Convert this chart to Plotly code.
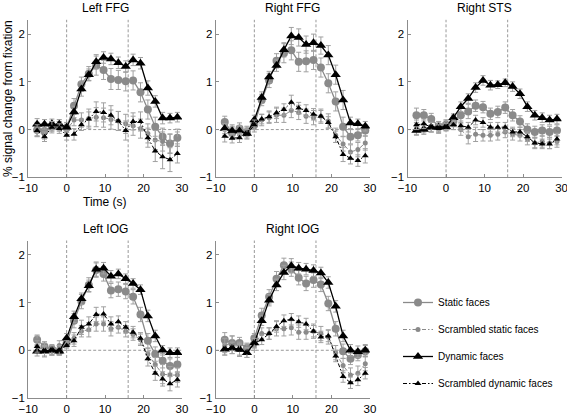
import plotly.graph_objects as go

# ---------------- data ----------------
time_s = [-7.68, -5.76, -3.84, -1.92, 0, 1.92, 3.84, 5.76, 7.68, 9.6, 11.52,
          13.44, 15.36, 17.28, 19.2, 21.12, 23.04, 24.96, 26.88, 28.8]

panel_titles = ["Left FFG", "Right FFG", "Right STS", "Left IOG", "Right IOG"]
series_names = ["Static faces", "Scrambled static faces", "Dynamic faces",
                "Scrambled dynamic faces"]
x_ticks = [-10, 0, 10, 20, 30]
y_ticks = [-1, 0, 1, 2]

# Left FFG
lffg_static = [-0.01, -0.03, 0.07, 0.07, 0.04, 0.5, 0.95, 1.17, 1.34, 1.25, 1.06,
               1.04, 1.01, 1.03, 0.78, 0.42, 0.06, -0.15, -0.29, -0.17]
lffg_scr_static = [0.0, -0.05, 0.07, 0.07, -0.01, 0.2, 0.2, 0.23, 0.26, 0.25, 0.21,
                   0.18, 0.12, 0.08, 0.02, -0.08, -0.22, -0.25, -0.3, -0.2]
lffg_dynamic = [0.11, 0.11, 0.12, 0.11, 0.05, 0.37, 0.85, 1.15, 1.42, 1.51, 1.48,
                1.4, 1.32, 1.46, 1.39, 0.87, 0.59, 0.24, 0.24, 0.26]
lffg_scr_dynamic = [-0.02, -0.15, 0.05, 0.02, -0.12, -0.1, 0.1, 0.22, 0.38, 0.36, 0.3,
                    0.18, -0.02, 0.17, 0.17, -0.17, -0.45, -0.57, -0.63, -0.5]
lffg_static_err = [0.12, 0.12, 0.1, 0.1, 0.1, 0.15, 0.15, 0.15, 0.2, 0.2, 0.22,
                   0.2, 0.2, 0.2, 0.2, 0.2, 0.2, 0.18, 0.2, 0.18]
lffg_scr_static_err = [0.15, 0.15, 0.1, 0.1, 0.1, 0.12, 0.15, 0.2, 0.2, 0.2, 0.2,
                       0.2, 0.2, 0.2, 0.2, 0.2, 0.2, 0.2, 0.2, 0.15]
lffg_dynamic_err = [0.12, 0.1, 0.1, 0.1, 0.1, 0.12, 0.15, 0.12, 0.15, 0.12, 0.12,
                    0.12, 0.12, 0.12, 0.12, 0.15, 0.12, 0.12, 0.1, 0.1]
lffg_scr_dynamic_err = [0.12, 0.1, 0.12, 0.1, 0.1, 0.12, 0.12, 0.15, 0.2, 0.2, 0.2,
                        0.2, 0.2, 0.18, 0.2, 0.2, 0.22, 0.25, 0.25, 0.2]

# Right FFG
rffg_static = [0.16, -0.07, 0.02, -0.05, 0.1, 0.62, 1.03, 1.44, 1.6, 1.66, 1.42,
               1.43, 1.46, 1.3, 0.97, 0.59, 0.06, -0.15, -0.12, -0.02]
rffg_scr_static = [0.0, 0.0, -0.02, -0.03, 0.05, 0.2, 0.25, 0.3, 0.3, 0.4, 0.36,
                   0.28, 0.25, 0.28, 0.18, -0.12, -0.3, -0.47, -0.42, -0.28]
rffg_dynamic = [0.02, -0.03, -0.03, -0.08, 0.2, 0.67, 1.1, 1.34, 1.67, 1.96, 1.93,
                1.78, 1.82, 1.76, 1.56, 1.15, 0.62, 0.14, 0.12, 0.07]
rffg_scr_dynamic = [-0.14, -0.18, -0.17, -0.1, 0.1, 0.22, 0.27, 0.35, 0.42, 0.57, 0.45,
                    0.4, 0.32, 0.28, 0.15, -0.15, -0.52, -0.6, -0.65, -0.55]
rffg_static_err = [0.12, 0.12, 0.12, 0.1, 0.1, 0.12, 0.15, 0.15, 0.2, 0.2, 0.2,
                   0.22, 0.2, 0.2, 0.2, 0.2, 0.2, 0.15, 0.12, 0.12]
rffg_scr_static_err = [0.12, 0.1, 0.1, 0.1, 0.1, 0.12, 0.12, 0.15, 0.15, 0.15, 0.15,
                       0.15, 0.15, 0.15, 0.15, 0.15, 0.15, 0.15, 0.15, 0.15]
rffg_dynamic_err = [0.1, 0.1, 0.1, 0.1, 0.1, 0.12, 0.12, 0.12, 0.15, 0.18, 0.18,
                    0.18, 0.18, 0.18, 0.2, 0.2, 0.2, 0.12, 0.1, 0.1]
rffg_scr_dynamic_err = [0.12, 0.1, 0.1, 0.1, 0.1, 0.1, 0.12, 0.12, 0.12, 0.15, 0.12,
                        0.12, 0.12, 0.12, 0.12, 0.12, 0.15, 0.12, 0.12, 0.15]

# Right STS
rsts_static = [0.3, 0.3, 0.22, 0.07, 0.1, 0.18, 0.3, 0.38, 0.5, 0.47, 0.33,
               0.37, 0.46, 0.3, 0.17, 0.0, -0.05, -0.02, -0.05, -0.02]
rsts_scr_static = [0.02, 0.03, 0.05, 0.02, 0.1, 0.1, 0.0, -0.15, -0.1, -0.12, -0.12,
                   -0.1, -0.05, -0.1, -0.12, -0.2, -0.28, -0.25, -0.28, -0.25]
rsts_dynamic = [-0.02, 0.0, 0.05, 0.05, 0.06, 0.25, 0.48, 0.65, 0.88, 1.03, 0.93,
                0.94, 0.98, 0.9, 0.75, 0.48, 0.3, 0.25, 0.2, 0.22]
rsts_scr_dynamic = [0.1, 0.12, 0.05, 0.02, 0.05, 0.1, 0.08, 0.05, 0.2, 0.15, 0.05,
                    0.05, 0.05, -0.05, -0.05, -0.15, -0.28, -0.3, -0.3, -0.2]
rsts_static_err = [0.15, 0.12, 0.12, 0.1, 0.1, 0.12, 0.15, 0.15, 0.12, 0.12, 0.12,
                   0.12, 0.12, 0.12, 0.12, 0.12, 0.12, 0.12, 0.12, 0.12]
rsts_scr_static_err = [0.12, 0.1, 0.1, 0.1, 0.1, 0.1, 0.12, 0.15, 0.15, 0.12, 0.12,
                       0.12, 0.12, 0.12, 0.12, 0.12, 0.12, 0.12, 0.12, 0.12]
rsts_dynamic_err = [0.1, 0.1, 0.1, 0.08, 0.08, 0.08, 0.1, 0.1, 0.1, 0.1, 0.1,
                    0.08, 0.08, 0.1, 0.1, 0.1, 0.1, 0.1, 0.1, 0.1]
rsts_scr_dynamic_err = [0.1, 0.1, 0.1, 0.08, 0.08, 0.1, 0.1, 0.1, 0.1, 0.1, 0.1,
                        0.1, 0.1, 0.1, 0.1, 0.1, 0.1, 0.1, 0.1, 0.12]

# Left IOG
liog_static = [0.22, 0.08, 0.02, -0.02, 0.15, 0.62, 1.02, 1.37, 1.68, 1.6, 1.25,
               1.28, 1.23, 1.12, 0.75, 0.2, -0.08, -0.22, -0.33, -0.3]
liog_scr_static = [0.2, 0.05, 0.0, 0.1, 0.15, 0.25, 0.4, 0.43, 0.55, 0.55, 0.45,
                   0.48, 0.4, 0.33, 0.22, -0.08, -0.3, -0.5, -0.52, -0.52]
liog_dynamic = [-0.02, -0.02, 0.0, -0.02, 0.25, 0.7, 1.08, 1.35, 1.7, 1.72, 1.55,
                1.6, 1.5, 1.4, 1.27, 0.72, 0.3, 0.0, -0.05, -0.05]
liog_scr_dynamic = [0.08, -0.02, 0.0, 0.0, 0.1, 0.2, 0.48, 0.55, 0.75, 0.76, 0.55,
                    0.6, 0.48, 0.38, 0.25, -0.18, -0.48, -0.6, -0.7, -0.62]
liog_static_err = [0.1, 0.1, 0.1, 0.08, 0.1, 0.15, 0.15, 0.15, 0.15, 0.15, 0.15,
                   0.15, 0.15, 0.15, 0.15, 0.15, 0.15, 0.15, 0.15, 0.15]
liog_scr_static_err = [0.1, 0.1, 0.1, 0.1, 0.1, 0.12, 0.12, 0.15, 0.15, 0.15, 0.15,
                       0.12, 0.12, 0.12, 0.12, 0.12, 0.15, 0.2, 0.18, 0.15]
liog_dynamic_err = [0.1, 0.1, 0.1, 0.08, 0.1, 0.12, 0.12, 0.12, 0.15, 0.12, 0.12,
                    0.1, 0.1, 0.1, 0.1, 0.12, 0.12, 0.1, 0.1, 0.1]
liog_scr_dynamic_err = [0.12, 0.12, 0.1, 0.1, 0.1, 0.12, 0.15, 0.15, 0.15, 0.15, 0.15,
                        0.12, 0.12, 0.12, 0.12, 0.15, 0.15, 0.15, 0.15, 0.15]

# Right IOG
riog_static = [0.22, 0.15, 0.15, 0.05, 0.25, 0.73, 1.12, 1.5, 1.78, 1.7, 1.52,
               1.4, 1.47, 1.38, 0.98, 0.45, -0.02, -0.18, -0.1, -0.02]
riog_scr_static = [0.1, 0.15, 0.02, 0.03, 0.1, 0.35, 0.35, 0.45, 0.45, 0.47, 0.38,
                   0.38, 0.4, 0.35, 0.28, -0.05, -0.32, -0.52, -0.48, -0.28]
riog_dynamic = [0.02, 0.05, 0.02, -0.05, 0.15, 0.62, 1.05, 1.37, 1.63, 1.77, 1.72,
                1.7, 1.67, 1.62, 1.42, 0.92, 0.3, 0.0, -0.03, 0.0]
riog_scr_dynamic = [0.02, 0.05, 0.0, -0.05, 0.15, 0.22, 0.35, 0.5, 0.62, 0.65, 0.6,
                    0.55, 0.4, 0.28, 0.3, -0.12, -0.55, -0.68, -0.62, -0.48]
riog_static_err = [0.15, 0.15, 0.12, 0.1, 0.1, 0.15, 0.15, 0.15, 0.15, 0.15, 0.15,
                   0.15, 0.15, 0.15, 0.15, 0.15, 0.15, 0.12, 0.12, 0.12]
riog_scr_static_err = [0.15, 0.15, 0.15, 0.1, 0.1, 0.12, 0.12, 0.15, 0.15, 0.15, 0.15,
                       0.15, 0.15, 0.15, 0.15, 0.15, 0.15, 0.15, 0.15, 0.15]
riog_dynamic_err = [0.12, 0.12, 0.12, 0.1, 0.1, 0.1, 0.12, 0.12, 0.15, 0.15, 0.12,
                    0.12, 0.12, 0.12, 0.12, 0.12, 0.12, 0.12, 0.12, 0.12]
riog_scr_dynamic_err = [0.12, 0.12, 0.12, 0.1, 0.1, 0.1, 0.12, 0.12, 0.12, 0.12, 0.12,
                        0.12, 0.12, 0.12, 0.12, 0.12, 0.12, 0.12, 0.12, 0.12]

panels = [
    (lffg_static, lffg_scr_static, lffg_dynamic, lffg_scr_dynamic,
     lffg_static_err, lffg_scr_static_err, lffg_dynamic_err, lffg_scr_dynamic_err),
    (rffg_static, rffg_scr_static, rffg_dynamic, rffg_scr_dynamic,
     rffg_static_err, rffg_scr_static_err, rffg_dynamic_err, rffg_scr_dynamic_err),
    (rsts_static, rsts_scr_static, rsts_dynamic, rsts_scr_dynamic,
     rsts_static_err, rsts_scr_static_err, rsts_dynamic_err, rsts_scr_dynamic_err),
    (liog_static, liog_scr_static, liog_dynamic, liog_scr_dynamic,
     liog_static_err, liog_scr_static_err, liog_dynamic_err, liog_scr_dynamic_err),
    (riog_static, riog_scr_static, riog_dynamic, riog_scr_dynamic,
     riog_static_err, riog_scr_static_err, riog_dynamic_err, riog_scr_dynamic_err),
]

# ---------------- layout geometry ----------------
W, H = 567, 417
col_px = [(28.2, 182.0), (215.8, 369.9), (407.5, 561.6)]
row_px = [(19.8, 177.3), (240.5, 398.0)]
cells = [(0, 0), (0, 1), (0, 2), (1, 0), (1, 1)]

GRAY = "#8a8a8a"
ERR = "#a0a0a0"
AXC = "#8c8c8c"
FONT = "Liberation Sans, Arial, Helvetica, sans-serif"
TICK_SIZE = 11.5

styles = [
    dict(color=GRAY, dash="solid", width=1.3, symbol="circle", size=8),
    dict(color=GRAY, dash="4px,2px,1.5px,2px", width=1, symbol="circle", size=5),
    dict(color="black", dash="solid", width=1.3, symbol="triangle-up", size=9),
    dict(color="black", dash="4px,2px,1.5px,2px", width=1, symbol="triangle-up", size=6),
]

fig = go.Figure()
layout = dict(
    width=W, height=H,
    margin=dict(l=0, r=0, t=0, b=0),
    paper_bgcolor="white", plot_bgcolor="white",
    font=dict(family=FONT, size=12, color="black"),
    showlegend=True,
    legend=dict(x=398 / W, y=1 - 288 / H, xanchor="left", yanchor="top",
                font=dict(size=10), tracegroupgap=8, bgcolor="rgba(0,0,0,0)"),
)
shapes = []
annotations = []

for p, (r, c) in enumerate(cells):
    n = "" if p == 0 else str(p + 1)
    xa, ya = "x" + n, "y" + n
    x0, x1 = col_px[c]
    y0, y1 = row_px[r]
    layout["xaxis" + n] = dict(
        domain=[x0 / W, x1 / W], anchor=ya, range=[-10, 30], tickvals=x_ticks,
        showline=True, linecolor=AXC, linewidth=1, ticks="inside", ticklen=3,
        tickcolor=AXC, showgrid=False, zeroline=False, fixedrange=True,
        tickfont=dict(size=TICK_SIZE), automargin=False, ticklabeloverflow="allow",
    )
    layout["yaxis" + n] = dict(
        domain=[1 - y1 / H, 1 - y0 / H], anchor=xa, range=[-1, 2.3], tickvals=y_ticks,
        showline=True, linecolor=AXC, linewidth=1, ticks="inside", ticklen=3,
        tickcolor=AXC, showgrid=False, zeroline=False, fixedrange=True,
        tickfont=dict(size=TICK_SIZE), automargin=False, ticklabeloverflow="allow",
    )
    # reference lines
    shapes.append(dict(type="line", xref=xa, yref=ya, x0=-10, x1=30, y0=0, y1=0,
                       line=dict(color="#999999", width=1, dash="3px,2px"), layer="below"))
    for xv in (0, 16):
        shapes.append(dict(type="line", xref=xa, yref=ya + " domain", x0=xv, x1=xv,
                           y0=0, y1=1,
                           line=dict(color="#999999", width=1, dash="3px,2px"),
                           layer="below"))
    annotations.append(dict(text=panel_titles[p], xref="paper", yref="paper",
                            x=(x0 + x1) / 2 / W, y=1 - (y0 - 11.5) / H,
                            xanchor="center", yanchor="middle", showarrow=False,
                            borderpad=0, font=dict(size=12)))
    vals = panels[p]
    for k in range(4):
        st = styles[k]
        fig.add_trace(go.Scatter(
            x=time_s, y=vals[k], xaxis=xa, yaxis=ya, mode="lines+markers",
            name=series_names[k], legendgroup=series_names[k], showlegend=(p == 0),
            line=dict(color=st["color"], width=st["width"], dash=st["dash"]),
            marker=dict(color=st["color"], symbol=st["symbol"], size=st["size"],
                        line=dict(width=0)),
            error_y=dict(type="data", array=vals[k + 4], color=ERR, thickness=1,
                         width=2.5),
        ))

# axis titles
annotations.append(dict(text="Time (s)", xref="paper", yref="paper",
                        x=(col_px[0][0] + col_px[0][1]) / 2 / W, y=1 - 202 / H,
                        xanchor="center", yanchor="middle", showarrow=False,
                        font=dict(size=12)))
annotations.append(dict(text="% signal change from fixation", xref="paper", yref="paper",
                        x=8 / W, y=1 - 99 / H, xanchor="center", yanchor="middle",
                        textangle=-90, showarrow=False, font=dict(size=12)))

layout["shapes"] = shapes
layout["annotations"] = annotations
fig.update_layout(**layout)
fig.write_html("out.html", config={"displayModeBar": False, "staticPlot": True},
               post_script="document.body.style.margin='0';"
                           "document.body.style.overflow='hidden';")
